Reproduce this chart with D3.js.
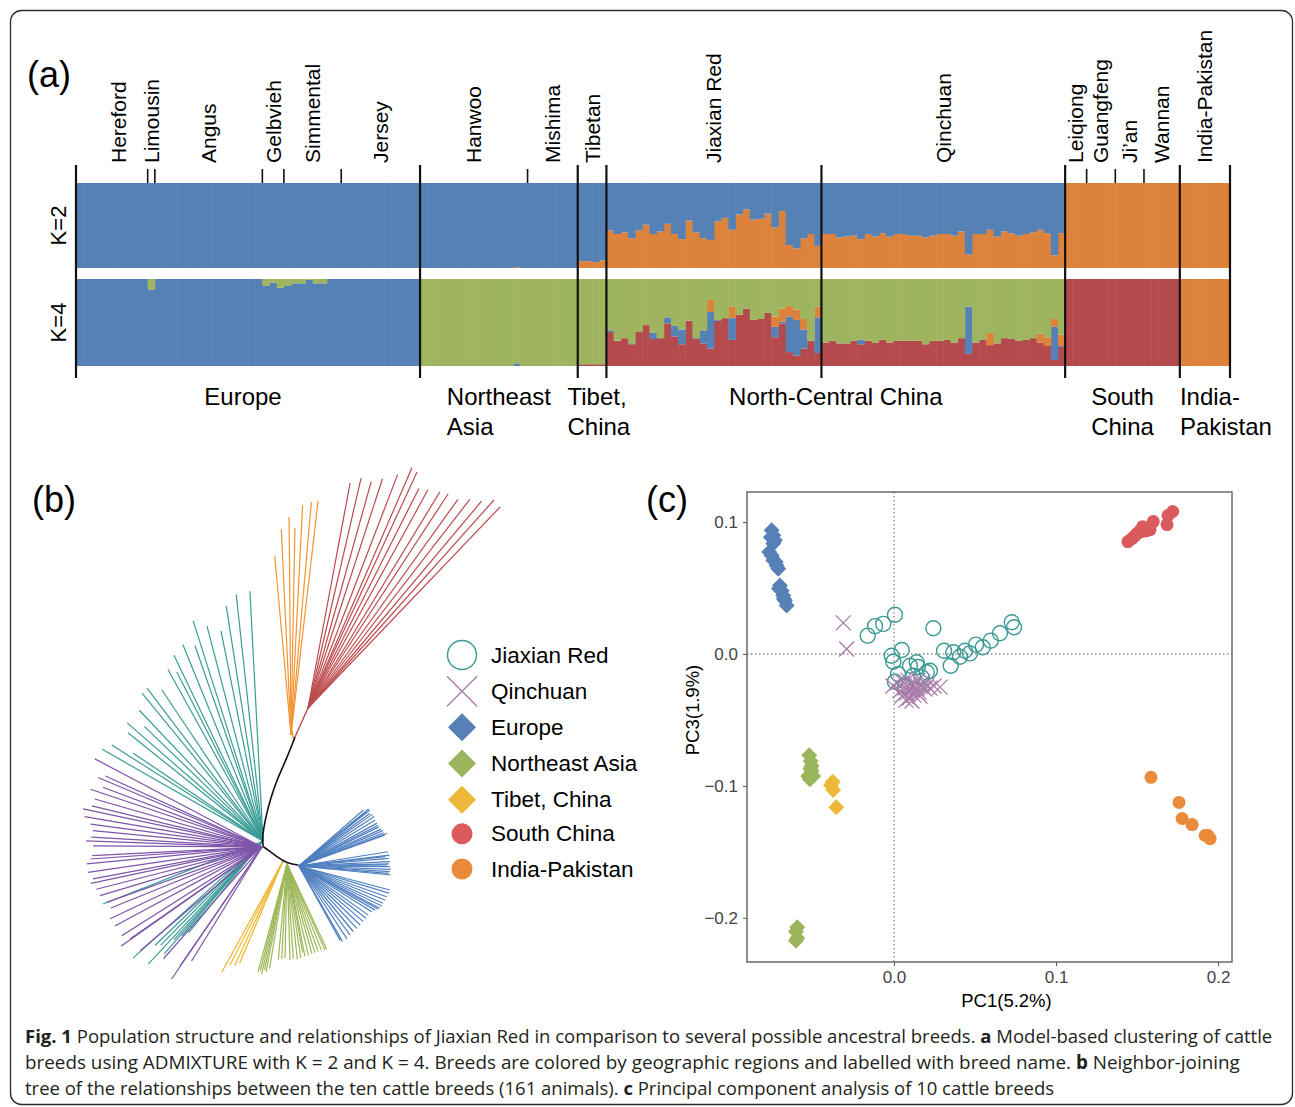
<!DOCTYPE html>
<html><head><meta charset="utf-8">
<script src="https://cdn.jsdelivr.net/npm/d3@7"></script>
<style>
body{margin:0;background:#fff}
svg{display:block}
text{font-family:"Liberation Sans",Arial,Helvetica,sans-serif}
.cap{font-family:"Open Sans","Noto Sans",sans-serif}
</style>
</head><body>
<svg id="fig" width="1295" height="1107"></svg>
<script>
// ---------------- DATA: panel (a) ADMIXTURE ----------------
const breedNames = ["Hereford","Limousin","Angus","Gelbvieh","Simmental","Jersey","Hanwoo","Mishima","Tibetan","Jiaxian Red","Qinchuan","Leiqiong","Guangfeng","Ji\u2019an","Wannan","India-Pakistan"];
const breedCounts = [10,1,15,3,8,11,15,7,4,30,34,3,4,4,5,7];
const breedMajorStart = [1,0,0,0,0,0,1,0,1,1,1,1,0,0,0,1];
const regionLines = [["Europe"],["Northeast","Asia"],["Tibet,","China"],["North-Central China"],["South","China"],["India-","Pakistan"]];
const regionCounts = [48,22,4,64,16,7];

// K=2 : proportion of the "orange" cluster (rest is blue)
const k2OrangeEurope = [0,0,0,0,0,0,0,0,0,0, 0, 0,0,0,0,0,0,0,0,0,0,0,0,0,0,0, 0,0,0, 0,0,0,0,0,0,0,0, 0,0,0,0,0,0,0,0,0,0,0];
const k2OrangeNEAsia = [0,0,0,0,0,0,0,0,0,0,0,0,0,0.01,0, 0,0,0,0,0,0,0];
const k2OrangeTibet = [0.08,0.08,0.07,0.09];
const k2OrangeJiaxian = [0.44,0.40,0.42,0.35,0.44,0.51,0.40,0.43,0.52,0.40,0.34,0.56,0.42,0.35,0.33,0.55,0.59,0.45,0.63,0.69,0.57,0.58,0.64,0.48,0.67,0.27,0.23,0.35,0.40,0.26];
const k2OrangeQinchuan = [0.40,0.40,0.36,0.37,0.38,0.34,0.40,0.37,0.41,0.37,0.40,0.40,0.38,0.38,0.36,0.38,0.40,0.40,0.38,0.43,0.16,0.40,0.40,0.45,0.37,0.43,0.41,0.38,0.40,0.42,0.45,0.41,0.15,0.41];
const k2OrangeSouth = [1,1,1,1,1,1,1,1,1,1,1,1,1,1,1,1];
const k2OrangeIndPak = [1,1,1,1,1,1,1];

// K=4 components
const k4GreenEurope = [0,0,0,0,0,0,0,0,0,0, 0.12, 0,0,0,0,0,0,0,0,0,0,0,0,0,0,0, 0.08,0.04,0.10, 0.08,0.05,0.05,0.01,0.05,0.05,0,0, 0,0,0,0,0,0,0,0,0,0,0];
const k4BlueNEAsia = [0,0,0,0,0,0,0,0,0,0,0,0,0,0.03,0, 0,0,0,0,0,0,0];
const k4RedTibet = [0.02,0.02,0.02,0.02];
const k4RedJiaxian = [0.39,0.29,0.32,0.25,0.39,0.47,0.31,0.32,0.49,0.34,0.25,0.52,0.31,0.26,0.20,0.52,0.55,0.30,0.59,0.66,0.53,0.54,0.61,0.33,0.49,0.16,0.12,0.20,0.29,0.15];
const k4BlueJiaxian = [0.02,0,0,0.01,0,0,0.07,0,0.07,0.12,0.17,0,0.01,0.15,0.42,0.01,0,0.25,0,0,0,0,0,0.12,0.02,0.41,0.41,0.22,0,0.41];
const k4OrangeJiaxian = [0,0,0,0,0,0,0,0,0,0,0,0,0,0,0.14,0,0,0.13,0,0,0,0,0,0.12,0.15,0.12,0.12,0.12,0,0.12];
const k4RedQinchuan = [0.27,0.29,0.26,0.26,0.29,0.25,0.29,0.27,0.30,0.27,0.29,0.29,0.29,0.29,0.25,0.29,0.29,0.30,0.27,0.32,0.14,0.27,0.30,0.24,0.26,0.32,0.31,0.29,0.30,0.32,0.27,0.23,0.07,0.22];
const k4BlueQinchuan = [0,0,0,0,0,0.05,0,0,0,0,0,0,0,0,0,0,0,0,0,0,0.54,0,0,0,0,0,0,0,0,0,0,0,0.38,0.01];
const k4OrangeQinchuan = [0,0,0,0,0,0,0,0,0,0,0,0,0,0,0,0,0,0,0,0,0,0,0,0.14,0,0,0,0,0,0,0.10,0.10,0.09,0.13];
const k4RedSouth = [1,1,1,1,1,1,1,1,1,1,1,1,1,1,1,1];
const k4OrangeIndPak = [1,1,1,1,1,1,1];

// ---------------- DATA: panel (b) NJ tree (branch-length units, y up) ----------------
const treeBackbone = [[0.032,0.108],[0.024,0.087],[0.0137,0.065],[0.0075,0.046],[0.0037,0.032],[0.0005,0.016],[-0.0007,0.005],[0.0003,-0.0017]];
const treeBackboneLower = [[0.0003,-0.0017],[0.0053,-0.005],[0.0137,-0.0117],[0.0237,-0.0183],[0.0353,-0.020]];
const redStem = [[0.032,0.108],[0.045,0.137]];
const orangeStem = [[0.031,0.104],[0.028,0.118]];
const tealHub = [0.0, 0.004];
const tealAngles = [93,96.2,98.9,101.3,104.6,107.6,109.2,112.2,115.6,117,119,123.8,127.2,129.3,133.4,136,139,141.3,145.9,147.6,150.3, 201.5,222,224,225.5,227,228,228.8,229.5,231];
const tealLengths = [0.250,0.248,0.238,0.214,0.222,0.231,0.207,0.212,0.206,0.190,0.196,0.182,0.192,0.191,0.180,0.165,0.180,0.173,0.157,0.179,0.185, 0.172,0.175,0.150,0.146,0.168,0.133,0.150,0.125,0.118];
const purpleHub = [-0.001,-0.002];
const purpleAngles = [152.2,155.6,157,159.4,161.4,164,166.4,168,170.3,172.4,174.5,176.7,178,179.6,182.9,184,185.5,188.3,190.7,192,194.3,196.7,199.6,202,205.3,208.2,212.3,215.1,214.9,220.4,228.6,235.6,235.4,238.3];
const purpleLengths = [0.189,0.172,0.178,0.170,0.181,0.174,0.175,0.183,0.180,0.173,0.170,0.171,0.176,0.169,0.170,0.172,0.176,0.176,0.172,0.175,0.171,0.169,0.165,0.163,0.168,0.167,0.166,0.172,0.161,0.160,0.149,0.160,0.144,0.134];
const redHub = [0.045,0.137];
const redAngles = [79.4,77,74.4,72,69,66.6,65.2,63.2,61.2,58.6,56.8,54.3,52.2,50,48.2,46.3];
const redLengths = [0.229,0.236,0.235,0.241,0.250,0.262,0.260,0.246,0.249,0.253,0.256,0.257,0.264,0.270,0.279,0.278];
const orangeHub = [0.028,0.110];
const orangeAngles = [95.2,92.7,90.5,88.9,87.1,85,83.4];
const orangeLengths = [0.180,0.206,0.218,0.207,0.230,0.234,0.236];
const yellowHub = [0.020,-0.016];
const yellowAngles = [241.2,243,245.2,247];
const yellowLengths = [0.127,0.117,0.115,0.111];
const greenHub = [0.024,-0.019];
const greenAngles = [255,256,257,258,259,260.5, 264.8,266.8,268.8,271.8,273.8,276.2,278.3,280,281,283.2,285.5,287.5,289.6,291.8,293.8,295];
const greenLengths = [0.112,0.110,0.113,0.108,0.110,0.106, 0.096,0.095,0.094,0.096,0.095,0.096,0.095,0.090,0.094,0.094,0.093,0.093,0.093,0.093,0.094,0.094];
const blueHub = [0.036,-0.021];
const blueAngles = [41,39,39.3,38.3,36.6,35.2,33.3,31.2,28.8,27.3,26.1,24.2,22.9,21.4,20.4,19.8,
  9.1,6.9,6.2,4.9,2.7,1.3,0.7,-0.4,-2.1,-3.6,-4.7,-5.6,
  -14.8,-16.8,-19.3,-21.6,-23.9,-25.8,-27.6,-28.6,-30.1,-32.2,-35.3,-38,-40.9,-44,-47.2,-50.4,-53.5,-56.6,-60,-61];
const blueLengths = [0.085,0.086,0.090,0.090,0.088,0.090,0.090,0.089,0.089,0.089,0.089,0.090,0.091,0.091,0.094,0.091,
  0.090,0.091,0.087,0.090,0.091,0.090,0.088,0.091,0.092,0.091,0.090,0.092,
  0.094,0.094,0.093,0.093,0.092,0.092,0.091,0.090,0.088,0.086,0.085,0.085,0.085,0.085,0.085,0.085,0.086,0.087,0.087,0.085];

// ---------------- DATA: panel (c) PCA ----------------
const pcTicksY = [0.1,0.0,-0.1,-0.2];
const pcTicksX = [0.0,0.1,0.2];
const legendNames = ["Jiaxian Red","Qinchuan","Europe","Northeast Asia","Tibet, China","South China","India-Pakistan"];
const pcEuropeX = [-0.0755,-0.0745,-0.0735,-0.0745,-0.077,-0.0755,-0.0745,-0.0724,-0.0714,-0.0704,-0.071,-0.0693,-0.0683,-0.068,-0.0673,-0.0662,-0.0760,-0.0730];
const pcEuropeY = [0.0938,0.0900,0.0862,0.0837,0.0773,0.0747,0.0710,0.0671,0.0646,0.0520,0.0494,0.0480,0.0443,0.0418,0.0405,0.0367,0.0885,0.0700];
const pcNEAsiaX = [-0.0523,-0.0514,-0.0508,-0.0508,-0.0529,-0.0498,-0.0519,-0.0516,-0.0597,-0.0605,-0.0597,-0.0605];
const pcNEAsiaY = [-0.0768,-0.0811,-0.0849,-0.0887,-0.0925,-0.0925,-0.0950,-0.0870,-0.2071,-0.2104,-0.2154,-0.2173];
const pcTibetX = [-0.0378,-0.0389,-0.0375,-0.0356];
const pcTibetY = [-0.0968,-0.0996,-0.1032,-0.1161];
const pcSouthX = [0.1444,0.1469,0.1500,0.1519,0.1550,0.1580,0.1600,0.1685,0.1691,0.1720,0.1488,0.1530,0.1560,0.1535];
const pcSouthY = [0.0852,0.0875,0.0913,0.0935,0.0951,0.0943,0.1004,0.0981,0.1050,0.1080,0.0897,0.0928,0.0935,0.0965];
const pcIndPakX = [0.1586,0.1759,0.1778,0.1840,0.1920,0.1938,0.1951];
const pcIndPakY = [-0.0935,-0.1125,-0.1247,-0.1293,-0.1376,-0.1376,-0.1400];
const pcJiaxianX = [0.0006,-0.0066,-0.0117,-0.0162,0.0243,-0.0014,-0.0004,0.0048,0.0099,0.0140,0.0006,0.0119,0.0202,0.0222,0.0309,0.0350,0.0366,0.0407,0.0438,0.0469,0.0506,0.0548,0.0597,0.0654,0.0727,0.0741,0.0171,0.0068,0.0148,0.0025];
const pcJiaxianY = [0.0297,0.0228,0.0211,0.0139,0.0195,-0.0013,-0.0059,0.0030,-0.0089,-0.0063,-0.0211,-0.0165,-0.0139,-0.0127,0.0025,-0.0089,0.0013,-0.0021,0.0025,0.0005,0.0071,0.0051,0.0101,0.0157,0.0241,0.0203,-0.0177,-0.0241,-0.0099,-0.0152];
const pcQinchuanX = [-0.0313,-0.0292,-0.0006,0.0019,0.0037,0.0049,0.0068,0.0080,0.0093,0.0099,0.0111,0.0123,0.0130,0.0142,0.0154,0.0167,0.0179,0.0191,0.0204,0.0222,0.0247,0.0284,0.0056,0.0086,0.0148,0.0111,0.0074,0.0160];
const pcQinchuanY = [0.0236,0.0038,-0.0243,-0.0221,-0.0281,-0.0319,-0.0259,-0.0297,-0.0335,-0.0236,-0.0274,-0.0312,-0.0221,-0.0259,-0.0289,-0.0243,-0.0213,-0.0266,-0.0236,-0.0259,-0.0243,-0.0251,-0.0213,-0.0198,-0.0198,-0.0357,-0.0350,-0.0319];

const captionLines = [
  [["Fig. 1",1],[" Population structure and relationships of Jiaxian Red in comparison to several possible ancestral breeds. ",0],["a",1],[" Model-based clustering of cattle",0]],
  [["breeds using ADMIXTURE with K = 2 and K = 4. Breeds are colored by geographic regions and labelled with breed name. ",0],["b",1],[" Neighbor-joining",0]],
  [["tree of the relationships between the ten cattle breeds (161 animals). ",0],["c",1],[" Principal component analysis of 10 cattle breeds",0]]
];

// ---------------- DRAWING ----------------
const svg = d3.select("#fig");
svg.append("rect").attr("width",1295).attr("height",1107).attr("fill","#fff");
svg.append("rect").attr("x",10.5).attr("y",10.5).attr("width",1282).attr("height",1094)
  .attr("rx",11).attr("fill","none").attr("stroke","#2b2b2b").attr("stroke-width",1.3);

const C = {blue:"#5581b4", orange:"#dd823b", green:"#9fb45e", red:"#b54a4c"};

// ---- panel (a)
const gA = svg.append("g");
gA.append("text").attr("x",27).attr("y",87).attr("font-size",36).text("(a)");
const nInd = d3.sum(breedCounts);
const xA = d3.scaleLinear().domain([0,nInd]).range([76,1230]);
const yK2 = d3.scaleLinear().domain([0,1]).range([268,183]);
const yK4 = d3.scaleLinear().domain([0,1]).range([366,279]);

const k2Orange = [].concat(k2OrangeEurope,k2OrangeNEAsia,k2OrangeTibet,k2OrangeJiaxian,k2OrangeQinchuan,k2OrangeSouth,k2OrangeIndPak);
const k2Rows = k2Orange.map((o,i)=>({i:i, orange:o, blue:Math.max(0,1-o)}));

function zeros(a){return a.map(()=>0);}
const k4Red = [].concat(zeros(k4GreenEurope),zeros(k4BlueNEAsia),k4RedTibet,k4RedJiaxian,k4RedQinchuan,k4RedSouth,zeros(k4OrangeIndPak));
const k4Blue = [].concat(k4GreenEurope.map(g=>1-g),k4BlueNEAsia,zeros(k4RedTibet),k4BlueJiaxian,k4BlueQinchuan,zeros(k4RedSouth),zeros(k4OrangeIndPak));
const k4Orange = [].concat(zeros(k4GreenEurope),zeros(k4BlueNEAsia),zeros(k4RedTibet),k4OrangeJiaxian,k4OrangeQinchuan,zeros(k4RedSouth),k4OrangeIndPak);
const k4Rows = k4Red.map((r,i)=>{const b=k4Blue[i],o=k4Orange[i];return {i:i,red:r,blue:b,orange:o,green:Math.max(0,1-r-b-o)};});

function drawStack(rows, keys, yS){
  const st = d3.stack().keys(keys)(rows);
  st.forEach(layer=>{
    gA.append("g").attr("fill",C[layer.key]).selectAll("rect").data(layer).join("rect")
      .attr("x",d=>xA(d.data.i)).attr("width",d=>xA(d.data.i+1)-xA(d.data.i)+0.5)
      .attr("y",d=>yS(d[1])).attr("height",d=>Math.max(0,yS(d[0])-yS(d[1])));
  });
}
drawStack(k2Rows,["orange","blue"],yK2);
drawStack(k4Rows,["red","blue","orange","green"],yK4);

// breed boundaries
const breedStart = [0].concat(Array.from(d3.cumsum(breedCounts)).slice(0,-1));
breedStart.forEach((s,k)=>{
  if(breedMajorStart[k]){
    gA.append("line").attr("x1",xA(s)).attr("x2",xA(s)).attr("y1",165).attr("y2",378).attr("stroke","#111").attr("stroke-width",2.2);
  } else {
    gA.append("line").attr("x1",xA(s)).attr("x2",xA(s)).attr("y1",169).attr("y2",183).attr("stroke","#111").attr("stroke-width",1.6);
  }
});
gA.append("line").attr("x1",xA(nInd)).attr("x2",xA(nInd)).attr("y1",165).attr("y2",378).attr("stroke","#111").attr("stroke-width",2.2);

// breed labels
breedNames.forEach((nm,k)=>{
  const cx = xA(breedStart[k]+breedCounts[k]/2) + (k===0?7:0);
  gA.append("text").attr("transform",`translate(${cx},163) rotate(-90)`)
    .attr("dominant-baseline","central").attr("font-size",21).text(nm);
});
// K labels
[["K=2",yK2(0.5)],["K=4",yK4(0.5)]].forEach(([t,y])=>{
  gA.append("text").attr("transform",`translate(58,${y}) rotate(-90)`)
    .attr("text-anchor","middle").attr("dominant-baseline","central").attr("font-size",22).text(t);
});
// region labels
const regionStart = [0].concat(Array.from(d3.cumsum(regionCounts)).slice(0,-1));
regionLines.forEach((lines,k)=>{
  const cx = xA(regionStart[k]+regionCounts[k]/2) + (k===0?-5:0);
  const t = gA.append("text").attr("font-size",24);
  if(lines.length===1){
    t.attr("x",cx).attr("y",405).attr("text-anchor","middle").text(lines[0]);
  } else {
    const tmp = gA.append("text").attr("font-size",24).text(lines[0]);
    const w = tmp.node().getComputedTextLength(); tmp.remove();
    const left = cx - w/2 + (k===1||k===4?0:5);
    lines.forEach((ln,j)=>t.append("tspan").attr("x",left).attr("y",405+j*30).text(ln));
  }
});

// ---- panel (b) tree
const gB = svg.append("g");
gB.append("text").attr("x",32).attr("y",512).attr("font-size",36).text("(b)");
const tx = d3.scaleLinear().domain([0,0.1]).range([263,363]);
const ty = d3.scaleLinear().domain([0,0.1]).range([845,745]);
const lineT = d3.line().x(d=>tx(d[0])).y(d=>ty(d[1]));
function clade(hub, angles, lengths, color){
  const g = gB.append("g").attr("stroke",color).attr("stroke-width",1.2).attr("fill","none");
  angles.forEach((a,k)=>{
    const r = a*Math.PI/180;
    const tip = [hub[0]+lengths[k]*Math.cos(r), hub[1]+lengths[k]*Math.sin(r)];
    g.append("path").attr("d",lineT([hub,tip]));
  });
}
clade(tealHub,tealAngles,tealLengths,"#3a9c97");
clade(purpleHub,purpleAngles,purpleLengths,"#7e55a9");
clade(redHub,redAngles,redLengths,"#bd4a4d");
clade(orangeHub,orangeAngles,orangeLengths,"#f29431");
clade(yellowHub,yellowAngles,yellowLengths,"#efb52e");
clade(greenHub,greenAngles,greenLengths,"#9db757");
clade(blueHub,blueAngles,blueLengths,"#4f7fc0");
gB.append("path").attr("d",lineT(redStem)).attr("stroke","#bd4a4d").attr("stroke-width",1.4).attr("fill","none");
gB.append("path").attr("d",lineT(orangeStem)).attr("stroke","#f29431").attr("stroke-width",1.4).attr("fill","none");
const curveT = d3.line().x(d=>tx(d[0])).y(d=>ty(d[1])).curve(d3.curveBasis);
gB.append("path").attr("d",curveT(treeBackbone)).attr("stroke","#111").attr("stroke-width",1.6).attr("fill","none");
gB.append("path").attr("d",curveT(treeBackboneLower)).attr("stroke","#111").attr("stroke-width",1.6).attr("fill","none");

// ---- legend
const colPt = {jiax:"#3b9994", qin:"#a87aa8", eu:"#5680b6", ne:"#9bb55c", tib:"#edb83a", south:"#da5a5e", ind:"#ea8a3b"};
function drawSymbol(g, kind, x, y, s){
  if(kind==="circleOpen") g.append("circle").attr("cx",x).attr("cy",y).attr("r",s).attr("fill","none").attr("stroke",colPt.jiax).attr("stroke-width",1.4);
  else if(kind==="x") g.append("path").attr("d",`M${x-s},${y-s}L${x+s},${y+s}M${x-s},${y+s}L${x+s},${y-s}`).attr("stroke",colPt.qin).attr("stroke-width",1.3).attr("fill","none");
  else if(kind.startsWith("dia")) g.append("path").attr("d",`M${x},${y-s}L${x+s},${y}L${x},${y+s}L${x-s},${y}Z`).attr("fill",colPt[kind.slice(4)]);
  else g.append("circle").attr("cx",x).attr("cy",y).attr("r",s).attr("fill",colPt[kind.slice(4)]);
}
const legKinds = ["circleOpen","x","dia-eu","dia-ne","dia-tib","dot-south","dot-ind"];
const legSizes = [14.5,15,14,14,14,10.5,10.5];
const legY = d3.scalePoint().domain(legendNames).range([655,872]);
const gL = svg.append("g");
legendNames.forEach((nm,k)=>{
  const y = legY(nm) + (k>=5?(k===5?-2:-3):0);
  drawSymbol(gL, legKinds[k], 462, y, legSizes[k]);
  gL.append("text").attr("x",491).attr("y",y).attr("dominant-baseline","central").attr("font-size",22.5).text(nm);
});

// ---- panel (c) PCA
const gC = svg.append("g");
gC.append("text").attr("x",646).attr("y",512).attr("font-size",36).text("(c)");
const xC = d3.scaleLinear().domain([-0.0907,0.2086]).range([747,1232]);
const yC = d3.scaleLinear().domain([-0.2335,0.1228]).range([962,492]);
gC.append("line").attr("x1",xC(0)).attr("x2",xC(0)).attr("y1",492).attr("y2",962).attr("stroke","#888").attr("stroke-dasharray","1.5,2.5").attr("stroke-width",1.3);
gC.append("line").attr("x1",747).attr("x2",1232).attr("y1",yC(0)).attr("y2",yC(0)).attr("stroke","#888").attr("stroke-dasharray","1.5,2.5").attr("stroke-width",1.3);

const ax = gC.append("g").attr("transform","translate(0,962)").call(d3.axisBottom(xC).tickValues(pcTicksX).tickFormat(d3.format(".1f")).tickSize(4).tickPadding(5));
const ay = gC.append("g").attr("transform","translate(747,0)").call(d3.axisLeft(yC).tickValues(pcTicksY).tickFormat(d3.format(".1f")).tickSize(4).tickPadding(5));
[ax,ay].forEach(a=>{a.select(".domain").remove(); a.selectAll("line").attr("stroke","#555"); a.selectAll("text").attr("font-size",17).attr("fill","#444").attr("font-family","'Liberation Sans',Arial,sans-serif");});
gC.append("rect").attr("x",747).attr("y",492).attr("width",485).attr("height",470).attr("fill","none").attr("stroke","#6a6a6a").attr("stroke-width",1.5);
gC.append("text").attr("x",(747+1232)/2+17).attr("y",1007).attr("text-anchor","middle").attr("font-size",18.5).text("PC1(5.2%)");
gC.append("text").attr("transform","translate(692,710) rotate(-90)").attr("text-anchor","middle").attr("dominant-baseline","central").attr("font-size",18.5).text("PC3(1.9%)");

const gP = gC.append("g");
function pts(xs, ys, kind, s){ xs.forEach((x,k)=>drawSymbol(gP, kind, xC(x), yC(ys[k]), s)); }
pts(pcSouthX,pcSouthY,"dot-south",6.5);
pts(pcIndPakX,pcIndPakY,"dot-ind",6.5);
pts(pcEuropeX,pcEuropeY,"dia-eu",8);
pts(pcNEAsiaX,pcNEAsiaY,"dia-ne",8);
pts(pcTibetX,pcTibetY,"dia-tib",8);
pts(pcJiaxianX,pcJiaxianY,"circleOpen",7.5);
pts(pcQinchuanX,pcQinchuanY,"x",7.5);

// ---- caption
const capW = [1248,1215,1030];
captionLines.forEach((segs,j)=>{
  const t = svg.append("text").attr("class","cap").attr("x",25).attr("y",1043+j*26).attr("font-size",17).attr("fill","#231f20");
  segs.forEach(([s,b])=>t.append("tspan").attr("font-weight",b?"bold":"normal").text(s));
  const w = t.node().getComputedTextLength();
  t.attr("font-size",17*capW[j]/w);
});
</script>
</body></html>
